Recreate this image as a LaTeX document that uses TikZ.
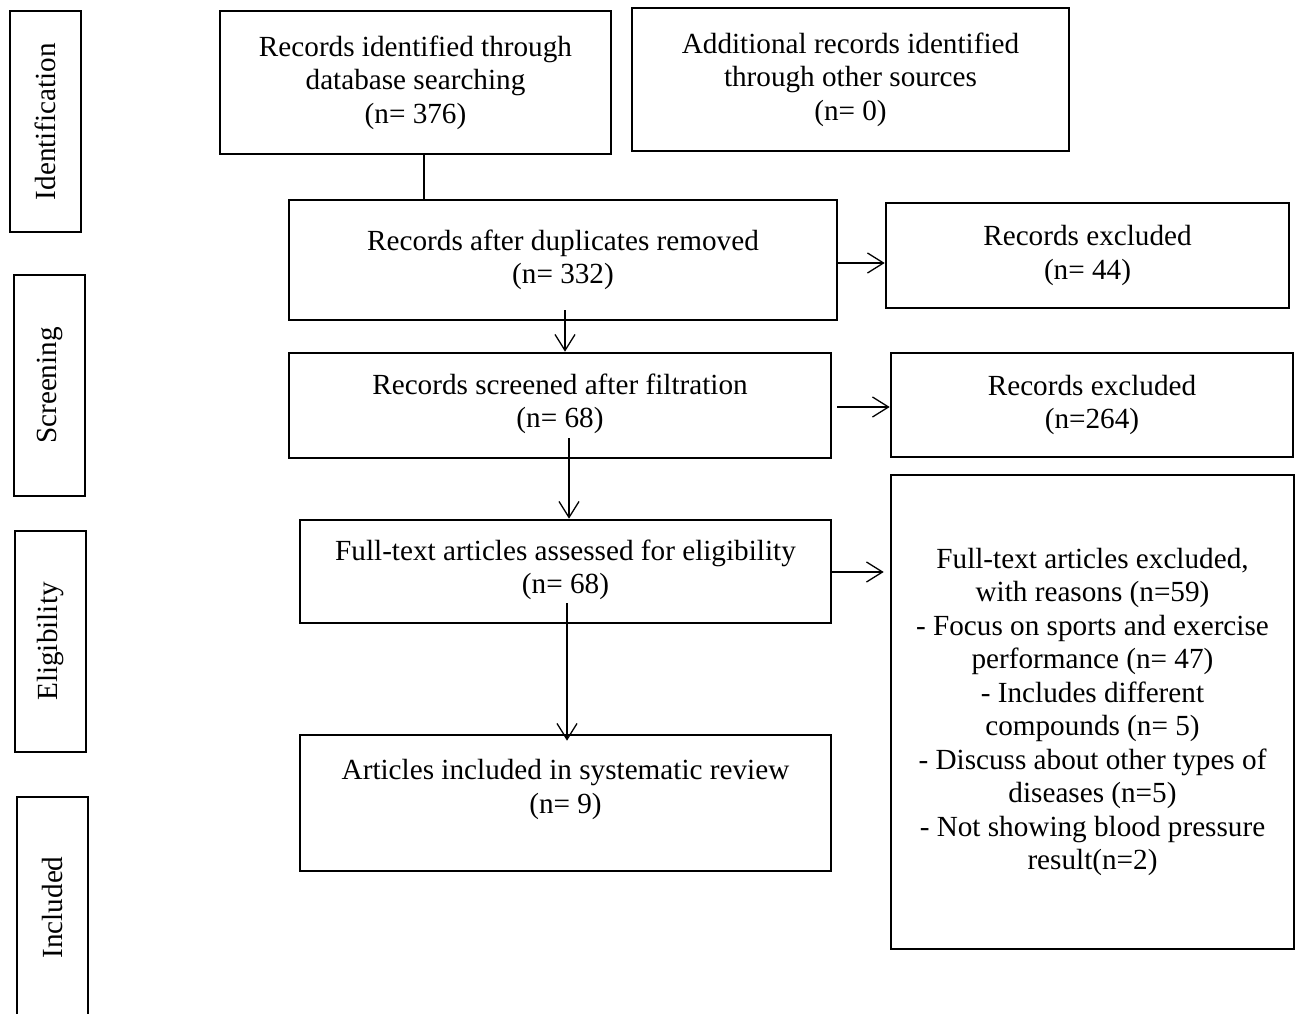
\documentclass[tikz,border=0pt]{standalone}
\usepackage{fontspec}
\setmainfont{Liberation Serif}
\usetikzlibrary{arrows.meta}
\begin{document}
\begin{tikzpicture}[x=1pt,y=-1pt,
  every node/.style={font=\fontsize{29.2}{33.5}\selectfont},
  box/.style={draw, line width=2.6pt, inner sep=0pt, align=center},
  phase/.style={draw, line width=2.6pt, inner sep=0pt, rotate=90,
    minimum width=221pt, minimum height=71pt},
  arr/.style={line width=1.3pt, -{Straight Barb[length=16pt,width=20pt]}},
  link/.style={line width=1.3pt}]
\useasboundingbox (0,0) rectangle (1299,1014);
% phase labels
\node[phase] (id)   at (45.5,121.5) {Identification};
\node[phase] (scr)  at (49.5,385.5) {Screening};
\node[phase] (elig) at (50.5,641.5) {Eligibility};
\node[phase] (incl) at (52.5,907.5) {Included};
% main boxes
\node[box, minimum width=391pt, minimum height=143pt] (b1) at (415.5,82.5)
  {Records identified through\\database searching\\(n= 376)};
\node[box, minimum width=437pt, minimum height=143pt] (b2) at (850.5,79.5)
  {Additional records identified\\through other sources\\(n= 0)};
\node[box, minimum width=548pt, minimum height=120pt] (b3) at (563,260)
  {Records after duplicates removed\\(n= 332)};
\node[box, minimum width=403pt, minimum height=105pt] (e1) at (1087.5,255.5)
  {Records excluded\\(n= 44)};
\node[box, minimum width=542pt, minimum height=105pt] (b4) at (560,405.5)
  {Records screened after filtration\\(n= 68)\\[-23.5pt]};
\node[box, minimum width=402pt, minimum height=104pt] (e2) at (1092,405)
  {Records excluded\\(n=264)};
\node[box, minimum width=531pt, minimum height=103pt] (b5) at (565.5,571.5)
  {Full-text articles assessed for eligibility\\(n= 68)\\[-23.5pt]};
\node[box, minimum width=403pt, minimum height=474pt] (e3) at (1092.5,712)
  {Full-text articles excluded,\\with reasons (n=59)\\- Focus on sports and exercise\\performance (n= 47)\\- Includes different\\compounds (n= 5)\\- Discuss about other types of\\diseases (n=5)\\- Not showing blood pressure\\result(n=2)};
\node[box, minimum width=531pt, minimum height=136pt] (b6) at (565.5,803)
  {Articles included in systematic review\\(n= 9)\\ };
% connector anchors
\coordinate (c1) at (424,0);
\coordinate (p2) at (565,310);
\coordinate (r3) at (0,263);
\coordinate (p4) at (837,407);
\coordinate (p5) at (569,438);
\coordinate (r6) at (0,572);
\coordinate (p7) at (567,603);
% connectors
\draw[link] (b1.south -| c1) -- (b3.north -| c1);
\draw[arr] (p2) -- (p2 |- b4.north);
\draw[arr] (b3.east |- r3) -- (e1.west |- r3);
\draw[arr] (p4) -- (p4 -| e2.west);
\draw[arr] (p5) -- (p5 |- b5.north);
\draw[arr, shorten >=6pt] (b5.east |- r6) -- (e3.west |- r6);
\draw[arr, shorten >=-7pt] (p7) -- (p7 |- b6.north);
\end{tikzpicture}
\end{document}
